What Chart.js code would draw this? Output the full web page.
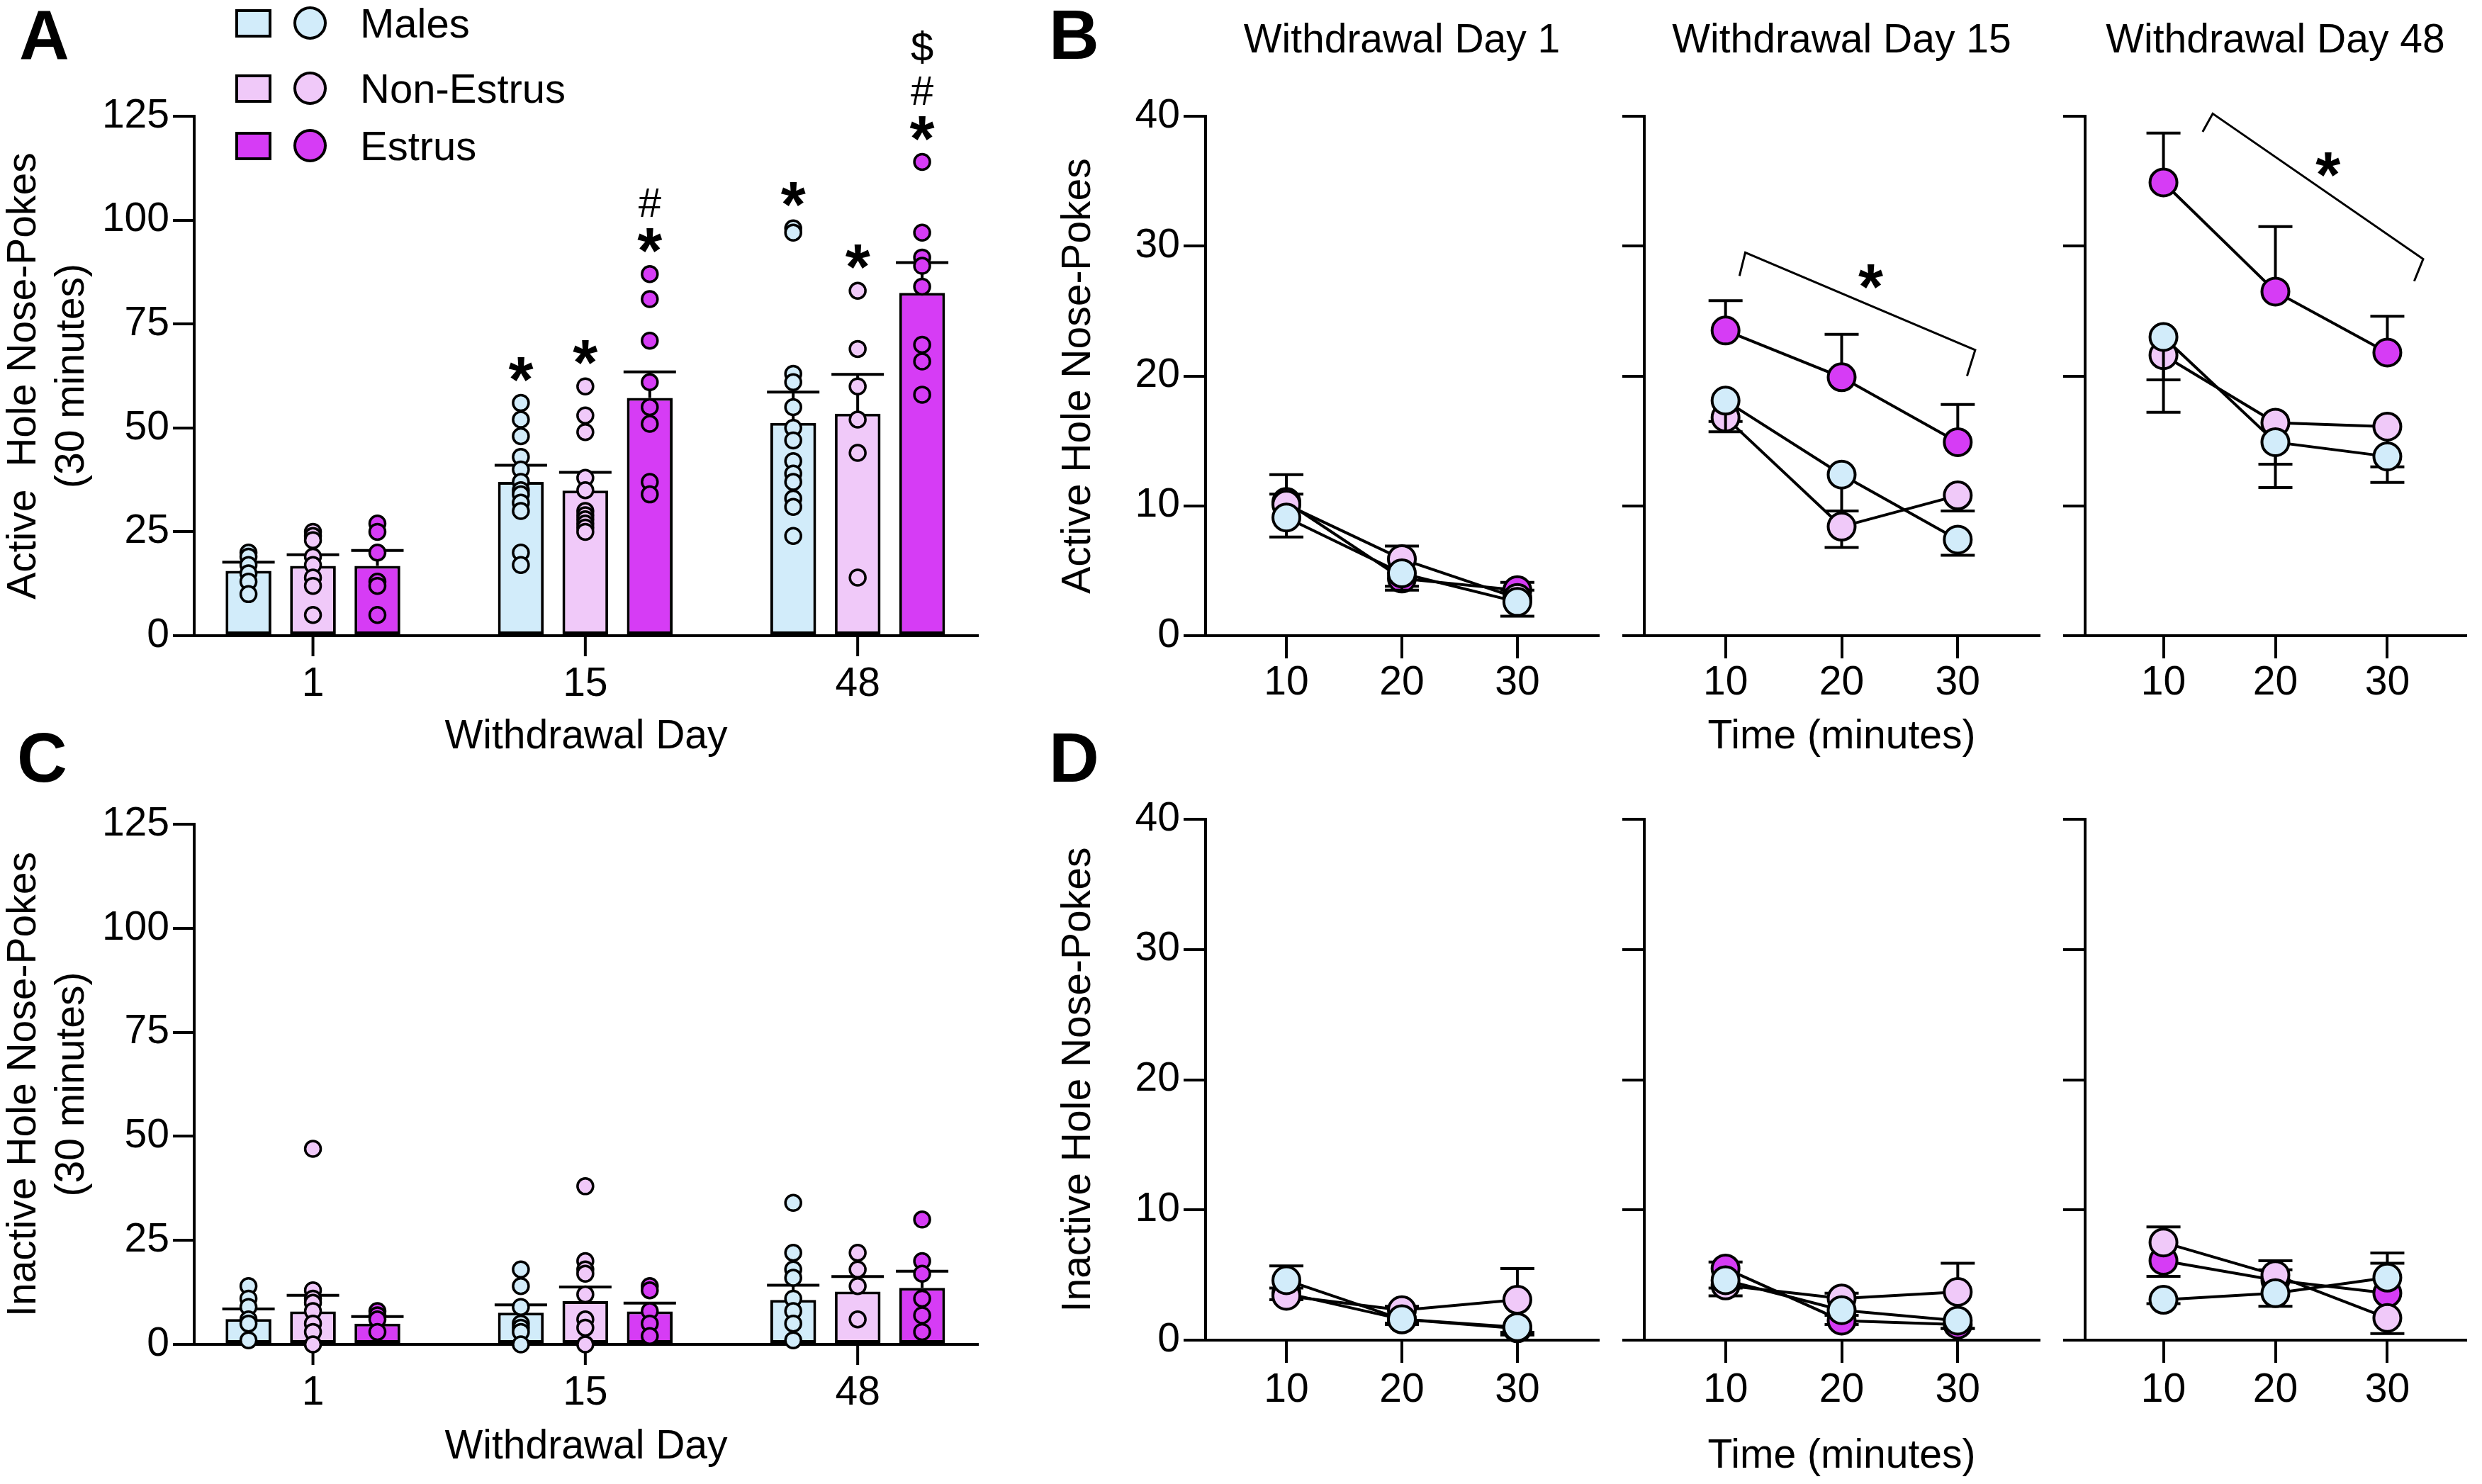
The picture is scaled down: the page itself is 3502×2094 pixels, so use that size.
<!DOCTYPE html>
<html>
<head>
<meta charset="utf-8">
<title>Active and inactive nose-pokes across withdrawal</title>
<script src="https://cdn.jsdelivr.net/npm/chart.js@4.4.1/dist/chart.umd.min.js"></script>
<style>
  html, body { margin: 0; padding: 0; background: #fff; }
  body { position: relative; width: 3502px; height: 2094px; overflow: hidden;
         font-family: 'Liberation Sans', Arial, Helvetica, sans-serif; color: #000; }
  canvas { position: absolute; }
  .letter { position: absolute; font-size: 98px; font-weight: bold; line-height: 98px; }
  .key { position: absolute; left: 332px; width: 600px; height: 58px; }
  .key .sq { position: absolute; left: 0; top: 9px; width: 51px; height: 40px; border: 4px solid #000; box-sizing: border-box; }
  .key .dot { position: absolute; left: 82px; top: 5px; width: 47px; height: 47px; border: 4px solid #000; border-radius: 50%; box-sizing: border-box; }
  .key .txt { position: absolute; left: 176px; top: 0; font-size: 58px; line-height: 58px; white-space: nowrap; }
</style>
</head>
<body>

<div class="letter" style="left:27px;top:0">A</div>
<div class="letter" style="left:1480px;top:0">B</div>
<div class="letter" style="left:24px;top:1020px">C</div>
<div class="letter" style="left:1480px;top:1020px">D</div>

<div class="key" style="top:4px"><div class="sq" style="background:#d2ecfa"></div><div class="dot" style="background:#d2ecfa"></div><div class="txt">Males</div></div>
<div class="key" style="top:96px"><div class="sq" style="background:#f0c9f9"></div><div class="dot" style="background:#f0c9f9"></div><div class="txt">Non-Estrus</div></div>
<div class="key" style="top:177px"><div class="sq" style="background:#d63cf5"></div><div class="dot" style="background:#d63cf5"></div><div class="txt">Estrus</div></div>

<canvas id="panelA" width="1420" height="1090" style="left:0;top:0"></canvas>
<canvas id="panelC" width="1420" height="1004" style="left:0;top:1090px"></canvas>
<canvas id="panelB1" width="830" height="1090" style="left:1450px;top:0"></canvas>
<canvas id="panelB2" width="620" height="1090" style="left:2280px;top:0"></canvas>
<canvas id="panelB3" width="602" height="1090" style="left:2900px;top:0"></canvas>
<canvas id="panelD1" width="830" height="1004" style="left:1450px;top:1090px"></canvas>
<canvas id="panelD2" width="620" height="1004" style="left:2280px;top:1090px"></canvas>
<canvas id="panelD3" width="602" height="1004" style="left:2900px;top:1090px"></canvas>

<script>
// Nose-poke figure: bar+dot panels (A, C) and time-course panels (B, D)

const FONT = "'Liberation Sans', Arial, Helvetica, sans-serif";
const INK = '#000';

// categories
const days = ['1', '15', '48'];
const timeBins = [10, 20, 30];
const groupNames = ['Males', 'Non-Estrus', 'Estrus'];
const groupFills = ['#d2ecfa', '#f0c9f9', '#d63cf5'];

// panel A: active hole, 30 min totals (mean, SEM, individual rats)
const activeMeanMales = [15.6, 37.0, 51.2];
const activeMeanNonEstrus = [16.8, 34.9, 53.4];
const activeMeanEstrus = [16.8, 57.2, 82.5];
const activeSemMales = [2.1, 4.0, 7.4];
const activeSemNonEstrus = [2.7, 4.4, 9.5];
const activeSemEstrus = [3.7, 6.3, 7.3];
const activeDotsMales = [
  [20, 19, 17, 15, 13, 10],
  [56, 52, 48, 43, 40, 37, 35, 34, 32, 30, 20, 17],
  [98, 97, 63, 61, 55, 50, 47, 42, 39, 37, 33, 31, 24]
];
const activeDotsNonEstrus = [
  [25, 24, 23, 19, 17, 14, 12, 5],
  [60, 53, 49, 38, 35, 30, 29, 28, 27, 26, 25],
  [83, 69, 60, 52, 44, 14]
];
const activeDotsEstrus = [
  [27, 25, 20, 13, 12, 5],
  [87, 81, 71, 61, 55, 51, 37, 34],
  [114, 97, 91, 89, 84, 70, 66, 58]
];
// significance marks, bottom to top
const activeMarksMales = ['', '*', '*'];
const activeMarksNonEstrus = ['', '*', '*'];
const activeMarksEstrus = ['', '*#', '*#$'];

// panel C: inactive hole
const inactiveMeanMales = [6.1, 7.6, 10.7];
const inactiveMeanNonEstrus = [7.9, 10.4, 12.7];
const inactiveMeanEstrus = [5.0, 7.9, 13.6];
const inactiveSemMales = [2.4, 1.9, 3.5];
const inactiveSemNonEstrus = [3.9, 3.4, 3.6];
const inactiveSemEstrus = [1.7, 2.0, 4.0];
const inactiveDotsMales = [
  [14, 11, 9, 6, 5, 1],
  [18, 14, 9, 5, 4, 3, 0],
  [34, 22, 18, 16, 11, 8, 5, 1]
];
const inactiveDotsNonEstrus = [
  [47, 13, 11, 10, 8, 5, 3, 0],
  [38, 20, 18, 17, 12, 6, 4, 0],
  [22, 18, 14, 6]
];
const inactiveDotsEstrus = [
  [8, 7, 6, 3],
  [14, 13, 8, 5, 2],
  [30, 20, 17, 11, 7, 3]
];

// panel B: active hole per 10-min bin, one row per withdrawal day
const activeTimeMales = [[9.1, 4.8, 2.6], [18.1, 12.4, 7.4], [23.0, 14.9, 13.8]];
const activeTimeNonEstrus = [[10.1, 5.9, 2.9], [16.8, 8.4, 10.8], [21.6, 16.4, 16.1]];
const activeTimeEstrus = [[10.3, 4.4, 3.5], [23.5, 19.9, 14.9], [34.9, 26.5, 21.8]];
// SEM, sign gives the drawn direction (up / down)
const activeErrMales = [[-1.5, -1.3, -1.1], [-2.4, -2.8, -1.2], [-5.8, -3.5, -2.0]];
const activeErrNonEstrus = [[0.8, 1.0, 0.6], [-0.3, -1.6, -1.2], [-1.9, -3.2, -3.1]];
const activeErrEstrus = [[2.1, -0.6, 0.6], [2.3, 3.3, 2.9], [3.8, 5.0, 2.8]];

// panel D: inactive hole per 10-min bin
const inactiveTimeMales = [[4.6, 1.6, 1.0], [4.6, 2.3, 1.5], [3.1, 3.6, 4.8]];
const inactiveTimeNonEstrus = [[3.4, 2.3, 3.1], [4.2, 3.2, 3.7], [7.5, 5.0, 1.7]];
const inactiveTimeEstrus = [[3.6, 1.6, 0.9], [5.5, 1.5, 1.2], [6.1, 4.6, 3.6]];
const inactiveErrMales = [[1.1, -0.4, -0.6], [-0.6, -0.4, -0.6], [-0.3, -1.0, 1.9]];
const inactiveErrNonEstrus = [[-0.3, 0.3, 2.4], [-0.8, 0.4, 2.2], [1.2, 1.1, -1.2]];
const inactiveErrEstrus = [[0.4, -0.3, -0.3], [0.5, -0.3, -0.3], [-1.2, 0.8, 2.3]];

// estrus time-effect brackets (data units)
const bracket15X = [11.2, 11.7, 31.5, 30.8];
const bracket15Y = [27.7, 29.5, 22.0, 20.0];
const bracket15Star = [22.5, 27.9];
const bracket48X = [13.5, 14.4, 33.2, 32.4];
const bracket48Y = [38.8, 40.2, 29.0, 27.3];
const bracket48Star = [24.7, 36.5];

// ---- layout helpers ----
const CAT_PCT = 0.71, BAR_PCT = 0.71;
function slot(k) { return (k - 1) * CAT_PCT / 3; }   // dot column = bar centre

function tickStyle(show, pad) {
  return { display: show, color: INK, font: { family: FONT, size: 57 }, padding: pad };
}
function axisLines(len) {
  return {
    grid: { display: true, offset: false, drawOnChartArea: false, drawTicks: true, tickLength: len,
            tickWidth: 4, tickColor: INK, lineWidth: 4, color: INK },
    border: { display: true, color: INK, width: 4 }
  };
}
function titleFont() { return { family: FONT, size: 57, weight: 'normal' }; }

function drawSymbol(ctx, ch, x, cy) {
  ctx.save();
  ctx.fillStyle = INK;
  ctx.textAlign = 'center';
  ctx.textBaseline = 'alphabetic';
  if (ch === '*') { ctx.font = 'bold 90px ' + FONT; ctx.fillText('*', x, cy + 50); }
  else { ctx.font = '58px ' + FONT; ctx.fillText(ch, x, cy + 21); }
  ctx.restore();
}

// error bars: over the bar for bar sets, under the symbols for line sets
function drawErr(chart, args) {
  const ds = chart.data.datasets[args.index];
  const y = chart.scales.y, ctx = chart.ctx;
  ctx.save();
  ctx.strokeStyle = INK;
  ctx.lineWidth = 4;
  args.meta.data.forEach((el, i) => {
    const e = ds.err[i];
    if (!e) return;
    const end = y.getPixelForValue(ds.data[i].y + e);
    const half = ds.capHalf;
    ctx.beginPath();
    ctx.moveTo(el.x, el.y); ctx.lineTo(el.x, end);
    ctx.moveTo(el.x - half, end); ctx.lineTo(el.x + half, end);
    ctx.stroke();
  });
  ctx.restore();
}
const errorBars = {
  id: 'errorBars',
  beforeDatasetDraw(chart, args) {
    const ds = chart.data.datasets[args.index];
    if (ds.err && ds.type === 'line') drawErr(chart, args);
  },
  afterDatasetDraw(chart, args) {
    const ds = chart.data.datasets[args.index];
    if (ds.err && ds.type === 'bar') drawErr(chart, args);
  }
};

// tick marks under each withdrawal-day group (bar panels)
const CAT_TICK = 29;
const groupTicks = {
  id: 'groupTicks',
  beforeDatasetsDraw(chart) {
    const x = chart.scales.x, ctx = chart.ctx, base = chart.chartArea.bottom;
    ctx.save();
    ctx.strokeStyle = INK;
    ctx.lineWidth = 4;
    x.ticks.forEach(t => {
      const px = x.getPixelForValue(t.value);
      ctx.beginPath(); ctx.moveTo(px, base); ctx.lineTo(px, base + CAT_TICK); ctx.stroke();
    });
    ctx.restore();
  }
};

const SYMBOL_GAP = { '*': 52, '#': 50, '$': 62 };
const sigMarks = {
  id: 'sigMarks',
  afterDatasetsDraw(chart) {
    const ctx = chart.ctx, x = chart.scales.x, y = chart.scales.y;
    chart.data.datasets.forEach((ds, di) => {
      if (ds.marks) {
        const meta = chart.getDatasetMeta(di);
        ds.marks.forEach((str, i) => {
          let cy = y.getPixelForValue(ds.peaks[i]);
          [...str].forEach(ch => { cy -= SYMBOL_GAP[ch]; drawSymbol(ctx, ch, meta.data[i].x, cy); });
        });
      }
      if (ds.star) drawSymbol(ctx, '*', x.getPixelForValue(ds.star[0]), y.getPixelForValue(ds.star[1]));
    });
  }
};

function baseOptions(frame) {
  return {
    responsive: false, animation: false, devicePixelRatio: 1, events: [],
    layout: { padding: { top: frame.padTop, right: frame.padRight, left: 0, bottom: 0 } },
    plugins: { legend: { display: false }, tooltip: { enabled: false } }
  };
}

// ---- panels A and C ----
function barPanel(id, frame, m) {
  const datasets = [];
  for (let k = 0; k < 3; k++) {
    const pts = [];
    m.dots[k].forEach((list, i) => list.forEach(v => pts.push({ x: i + slot(k), y: v })));
    datasets.push({
      type: 'scatter', label: groupNames[k] + ' rats', data: pts, order: 0, clip: false,
      pointRadius: 11, pointBorderWidth: 3.5, pointBackgroundColor: groupFills[k], pointBorderColor: INK
    });
    datasets.push({
      type: 'bar', label: groupNames[k], order: 1,
      data: m.means[k].map((v, i) => ({ x: i, y: v })),
      err: m.sems[k], capHalf: 37,
      marks: m.marks ? m.marks[k] : null,
      peaks: m.dots[k].map(l => Math.max(...l)),
      backgroundColor: groupFills[k], borderColor: INK, borderWidth: 4, borderSkipped: false,
      categoryPercentage: CAT_PCT, barPercentage: BAR_PCT
    });
  }
  const opts = baseOptions(frame);
  opts.scales = {
    x: {
      type: 'linear', offset: false, min: -0.436, max: 2.442,
      grid: { display: false, drawTicks: false },
      border: { display: true, color: INK, width: 4 },
      afterBuildTicks: s => { s.ticks = days.map((d, i) => ({ value: i })); },
      ticks: { ...tickStyle(true, 6 + CAT_TICK), callback: v => days[v] },
      title: { display: true, text: 'Withdrawal Day', color: INK, font: titleFont(),
               padding: { top: 0, bottom: frame.titleGap } },
      afterFit: s => { s.height = frame.xHeight; }
    },
    y: {
      min: 0, max: 125, ...axisLines(30),
      ticks: { ...tickStyle(true, 5), stepSize: 25 },
      title: { display: true, text: m.yTitle, color: INK, font: titleFont(), padding: { top: 0, bottom: 0 } },
      afterFit: s => { s.width = frame.yWidth; }
    }
  };
  new Chart(document.getElementById(id), { type: 'bar', data: { datasets }, options: opts,
    plugins: [groupTicks, errorBars, sigMarks] });
}

// ---- panels B and D ----
function timePanel(id, frame, d, m, opt) {
  const datasets = [0, 1, 2].map(k => ({
    type: 'line', label: groupNames[k], order: k, clip: false,
    data: timeBins.map((t, i) => ({ x: t, y: m.series[k][d][i] })),
    err: m.errs[k][d], capHalf: 24,
    borderColor: INK, borderWidth: 4, tension: 0,
    pointRadius: 19, pointBorderWidth: 4, pointBackgroundColor: groupFills[k], pointBorderColor: INK
  }));
  if (opt.bracket) {
    datasets.push({
      type: 'line', label: 'Estrus trend', order: 3, clip: false,
      data: opt.bracket.x.map((x, i) => ({ x, y: opt.bracket.y[i] })),
      star: opt.bracket.star, borderColor: INK, borderWidth: 3, pointRadius: 0, tension: 0
    });
  }
  const opts = baseOptions(frame);
  opts.plugins.title = opt.title
    ? { display: true, text: opt.title, fullSize: false, color: INK, font: titleFont(), padding: { top: 24, bottom: 71.6 } }
    : { display: false };
  opts.scales = {
    x: {
      type: 'linear', min: 3, max: 37, ...axisLines(32),
      afterBuildTicks: s => { s.ticks = timeBins.map(v => ({ value: v })); },
      ticks: tickStyle(true, frame.xTickPad),
      title: { display: !!opt.xTitle, text: opt.xTitle || '', color: INK, font: titleFont(),
               padding: { top: 0, bottom: frame.titleGap } },
      afterFit: s => { s.height = frame.xHeight; }
    },
    y: {
      min: 0, max: 40, ...axisLines(31),
      ticks: { ...tickStyle(opt.yLabels, 5), stepSize: 10 },
      title: { display: !!opt.yTitle, text: opt.yTitle || '', color: INK, font: titleFont(),
               padding: { top: 38, bottom: 0 } },
      afterFit: s => { s.width = frame.yWidth; }
    }
  };
  new Chart(document.getElementById(id), { type: 'line', data: { datasets }, options: opts, plugins: [errorBars, sigMarks] });
}

// frames (pixel boxes inside each canvas)
const frameA = { padTop: 164, padRight: 40, yWidth: 274, xHeight: 193, titleGap: 16 };
const frameC = { padTop: 73, padRight: 40, yWidth: 274, xHeight: 197, titleGap: 18 };
const frameB = [
  { padTop: 0, padRight: 25, yWidth: 251, xHeight: 193, xTickPad: 1, titleGap: 16 },
  { padTop: 0, padRight: 23, yWidth: 40, xHeight: 193, xTickPad: 1, titleGap: 16 },
  { padTop: 0, padRight: 0, yWidth: 42, xHeight: 193, xTickPad: 1, titleGap: 16 }
];
const frameD = [
  { padTop: 66, padRight: 25, yWidth: 251, xHeight: 203, xTickPad: 5, titleGap: 5 },
  { padTop: 66, padRight: 23, yWidth: 40, xHeight: 203, xTickPad: 5, titleGap: 5 },
  { padTop: 66, padRight: 0, yWidth: 42, xHeight: 203, xTickPad: 5, titleGap: 5 }
];

barPanel('panelA', frameA, {
  means: [activeMeanMales, activeMeanNonEstrus, activeMeanEstrus],
  sems: [activeSemMales, activeSemNonEstrus, activeSemEstrus],
  dots: [activeDotsMales, activeDotsNonEstrus, activeDotsEstrus],
  marks: [activeMarksMales, activeMarksNonEstrus, activeMarksEstrus],
  yTitle: ['Active  Hole Nose-Pokes', '(30 minutes)']
});
barPanel('panelC', frameC, {
  means: [inactiveMeanMales, inactiveMeanNonEstrus, inactiveMeanEstrus],
  sems: [inactiveSemMales, inactiveSemNonEstrus, inactiveSemEstrus],
  dots: [inactiveDotsMales, inactiveDotsNonEstrus, inactiveDotsEstrus],
  marks: null,
  yTitle: ['Inactive Hole Nose-Pokes', '(30 minutes)']
});

const activeTime = {
  series: [activeTimeMales, activeTimeNonEstrus, activeTimeEstrus],
  errs: [activeErrMales, activeErrNonEstrus, activeErrEstrus]
};
const inactiveTime = {
  series: [inactiveTimeMales, inactiveTimeNonEstrus, inactiveTimeEstrus],
  errs: [inactiveErrMales, inactiveErrNonEstrus, inactiveErrEstrus]
};

timePanel('panelB1', frameB[0], 0, activeTime, { title: 'Withdrawal Day 1', yLabels: true, yTitle: 'Active Hole Nose-Pokes' });
timePanel('panelB2', frameB[1], 1, activeTime, { title: 'Withdrawal Day 15', yLabels: false, xTitle: 'Time (minutes)',
  bracket: { x: bracket15X, y: bracket15Y, star: bracket15Star } });
timePanel('panelB3', frameB[2], 2, activeTime, { title: 'Withdrawal Day 48', yLabels: false,
  bracket: { x: bracket48X, y: bracket48Y, star: bracket48Star } });

timePanel('panelD1', frameD[0], 0, inactiveTime, { yLabels: true, yTitle: 'Inactive Hole Nose-Pokes' });
timePanel('panelD2', frameD[1], 1, inactiveTime, { yLabels: false, xTitle: 'Time (minutes)' });
timePanel('panelD3', frameD[2], 2, inactiveTime, { yLabels: false });
</script>
</body>
</html>
